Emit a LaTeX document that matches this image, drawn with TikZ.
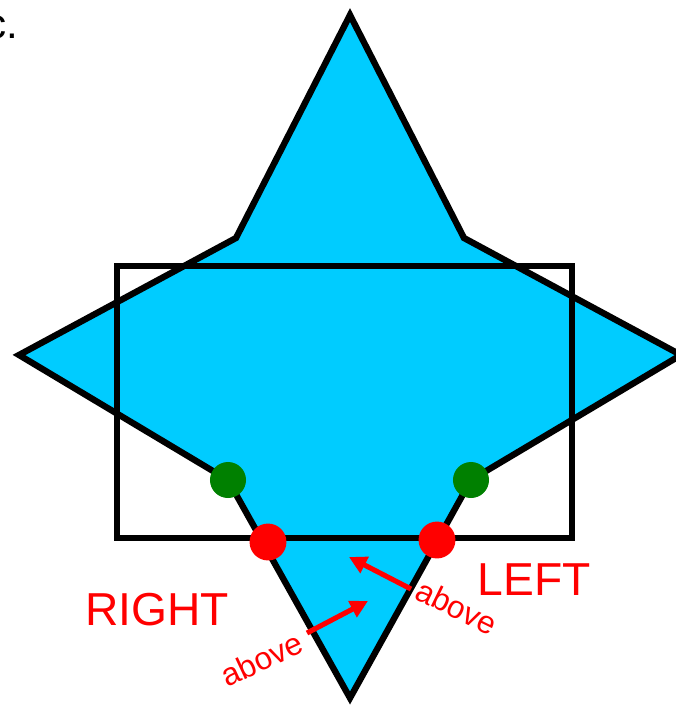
\documentclass[tikz,border=0pt]{standalone}
\usepackage{fontspec}
\setmainfont{Liberation Sans}
\usetikzlibrary{arrows.meta}
\definecolor{starblue}{HTML}{00CCFF}
\definecolor{dotgreen}{HTML}{008000}
\definecolor{dotred}{HTML}{FF0000}
\tikzset{
  starshape/.style={fill=starblue, draw=black, line width=3.6pt, line join=miter},
  framebox/.style={draw=black, line width=2.9pt},
  greendot/.style={circle, fill=dotgreen, minimum size=20.5pt, inner sep=0pt},
  reddot/.style={circle, fill=dotred, minimum size=21pt, inner sep=0pt},
  bigred/.style={text=dotred, font=\fontsize{26.3}{30}\selectfont, inner sep=0pt},
  smallred/.style={text=dotred, font=\fontsize{18}{21}\selectfont, inner sep=0pt},
  redarrow/.style={draw=dotred, line width=2.9pt, -{Triangle[length=10pt,width=10pt]}}
}
\begin{document}
\begin{tikzpicture}[x=0.02cm, y=-0.02cm]
\useasboundingbox (0,0) rectangle (676,708);
\clip (0,0) rectangle (676,708);
% partial text at top left
\node[anchor=base east, inner sep=0pt, font=\fontsize{24}{28}\selectfont] (cut) at (19,38) {c.};
% star
\draw[starshape] (350,15) -- (464,238) -- (681,355) -- (471,480) -- (350,698)
  -- (228,480) -- (19,355) -- (236,238) -- cycle;
% rectangle
\draw[framebox] (117,266) rectangle (572,538);
% dots
\node[greendot] (g1) at (228,480) {};
\node[greendot] (g2) at (471,480) {};
\node[reddot] (r1) at (268,542) {};
\node[reddot] (r2) at (437,540) {};
% labels
\node[bigred] (right) at (157,610) {RIGHT};
\node[bigred] (left) at (534,580) {LEFT};
\node[smallred, rotate=25] (ab1) at (262,659) {above};
\node[smallred, rotate=-26] (ab2) at (457,607) {above};
% arrows
\coordinate (t1) at (307,633);
\coordinate (h1) at (368,601);
\coordinate (t2) at (411,589);
\coordinate (h2) at (349,557);
\draw[redarrow] (t1) -- (h1);
\draw[redarrow] (t2) -- (h2);
\end{tikzpicture}
\end{document}
